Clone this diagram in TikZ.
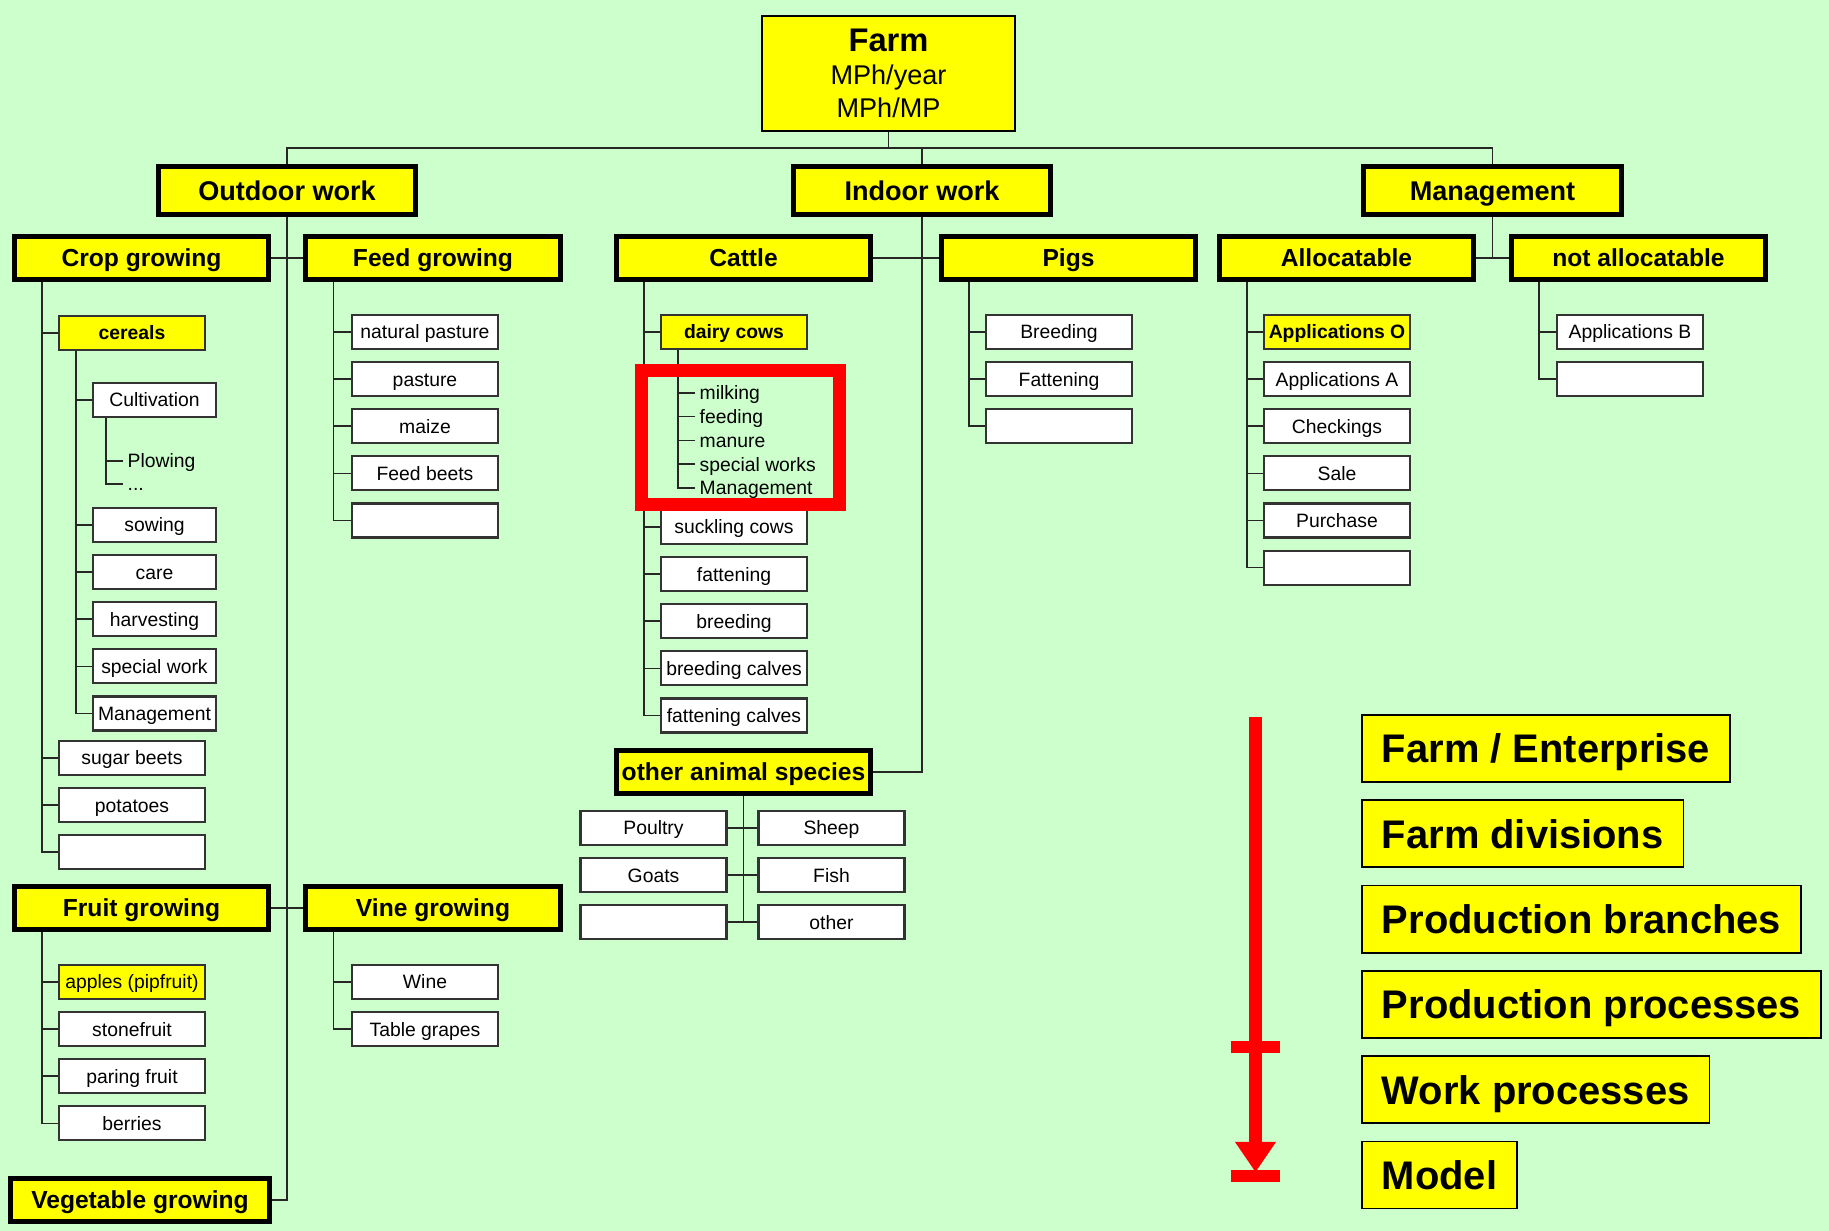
\documentclass[tikz,border=0pt]{standalone}
\usepackage{fontspec}
\setmainfont{Liberation Sans}
\usetikzlibrary{calc,positioning}
\definecolor{bggreen}{HTML}{CCFFCC}
\definecolor{boxyellow}{HTML}{FFFF00}

\begin{document}
\begin{tikzpicture}[x=0.01cm, y=-0.01cm,
        farmbox/.style={draw, line width=0.5pt, fill=boxyellow, minimum width=2.53cm, minimum height=1.15cm, inner sep=0pt, align=center, font=\fontsize{7.7}{9.4}\selectfont},
        areabox/.style={draw, line width=1.4pt, fill=boxyellow, minimum width=2.57cm, minimum height=0.48cm, inner sep=0pt, text height=5.55pt, text depth=0pt, font=\fontsize{7.7}{9}\selectfont\bfseries},
        branchbox/.style={areabox, minimum width=2.54cm, minimum height=0.43cm, text height=5.05pt, font=\fontsize{7}{8.4}\selectfont\bfseries},
        procbox/.style={draw=black!80, line width=0.6pt, fill=white, minimum width=1.46cm, minimum height=0.34cm, inner sep=0pt, text height=3.96pt, text depth=0pt, font=\fontsize{5.5}{6.6}\selectfont},
        workbox/.style={procbox, minimum width=1.23cm},
        yprocbox/.style={procbox, fill=boxyellow},
        worktext/.style={anchor=west, inner sep=0.04cm, text height=3.96pt, text depth=0pt, font=\fontsize{5.5}{6.6}\selectfont},
        tierbox/.style={draw, line width=0.5pt, fill=boxyellow, anchor=west, minimum height=0.67cm, inner xsep=0.2cm, text height=8.17pt, text depth=0pt, font=\fontsize{11.35}{13}\selectfont\bfseries},
        link/.style={draw=black!85, line width=0.45pt}]

        \fill[bggreen] (0,0) rectangle (1829,1231);
        \useasboundingbox (0,0) rectangle (1829,1231);

        % top of the tree
        \node [farmbox] (farm) at (888.5,73.5) {{\fontsize{9.3}{11}\selectfont\bfseries Farm}\\MPh/year\\MPh/MP};
        \node [areabox] (outdoor) at (287,190.5) {Outdoor work};
        \node [areabox] (indoor) at (922,190.5) {Indoor work};
        \node [areabox] (mgmt) at (1492.5,190.5) {Management};

        \node [branchbox] (crop) at (141.5,258) {Crop growing};
        \node [branchbox] (feed) at (433,258) {Feed growing};
        \node [branchbox] (cattle) at (743.5,258) {Cattle};
        \node [branchbox] (pigs) at (1068.5,258) {Pigs};
        \node [branchbox] (alloc) at (1346.5,258) {Allocatable};
        \node [branchbox] (notalloc) at (1638.5,258) {not allocatable};
        \node [branchbox] (fruit) at (141.5,908) {Fruit growing};
        \node [branchbox] (vine) at (433,908) {Vine growing};
        \node [branchbox, minimum width=2.58cm] (veg) at (140,1200) {Vegetable growing};
        \node [branchbox] (othsp) at (743.5,772) {other animal species};

        % crop growing
        \node [yprocbox, font=\fontsize{5.5}{6.6}\selectfont\bfseries] (cereals) at (132,333) {cereals};
        \node [workbox] (cult) at (154.5,400) {Cultivation};
        \node [worktext] (plow) at (123,461) {Plowing};
        \node [worktext] (etc) at (123,484) {...};
        \node [workbox] (sowing) at (154.5,525) {sowing};
        \node [workbox, below=0.11cm of sowing] (care) {care};
        \node [workbox, below=0.11cm of care] (harvest) {harvesting};
        \node [workbox, below=0.11cm of harvest] (special) {special work};
        \node [workbox, below=0.11cm of special] (cmgmt) {Management};
        \node [procbox] (sugar) at (132,758) {sugar beets};
        \node [procbox, below=0.11cm of sugar] (potato) {potatoes};
        \node [procbox, below=0.11cm of potato] (cropempty) {};

        % feed growing
        \node [procbox] (natpast) at (425,332) {natural pasture};
        \node [procbox, below=0.11cm of natpast] (past) {pasture};
        \node [procbox, below=0.11cm of past] (maize) {maize};
        \node [procbox, below=0.11cm of maize] (fbeets) {Feed beets};
        \node [procbox, below=0.11cm of fbeets] (feedempty) {};

        % cattle
        \node [yprocbox, font=\fontsize{5.5}{6.6}\selectfont\bfseries] (dairy) at (734,332) {dairy cows};
        \foreach \t [count=\i] in {milking,feeding,manure,special works,Management}
            \node [worktext] (dc\i) at (695,369.3+23.7*\i) {\t};
        \node [procbox] (suckling) at (734,527) {suckling cows};
        \node [procbox, below=0.11cm of suckling] (fatten) {fattening};
        \node [procbox, below=0.11cm of fatten] (breed) {breeding};
        \node [procbox, below=0.11cm of breed] (bcalves) {breeding calves};
        \node [procbox, below=0.11cm of bcalves] (fcalves) {fattening calves};

        % pigs
        \node [procbox] (pbreed) at (1059,332) {Breeding};
        \node [procbox, below=0.11cm of pbreed] (pfatten) {Fattening};
        \node [procbox, below=0.11cm of pfatten] (pigempty) {};

        % management
        \node [yprocbox, font=\fontsize{5.5}{6.6}\selectfont\bfseries] (appo) at (1337,332) {Applications O};
        \node [procbox, below=0.11cm of appo] (appa) {Applications A};
        \node [procbox, below=0.11cm of appa] (check) {Checkings};
        \node [procbox, below=0.11cm of check] (sale) {Sale};
        \node [procbox, below=0.11cm of sale] (purchase) {Purchase};
        \node [procbox, below=0.11cm of purchase] (allocempty) {};
        \node [procbox] (appb) at (1630,332) {Applications B};
        \node [procbox, below=0.11cm of appb] (notempty) {};

        % other animal species
        \node [procbox] (poultry) at (653.5,828) {Poultry};
        \node [procbox, below=0.11cm of poultry] (goats) {Goats};
        \node [procbox, below=0.11cm of goats] (othempty) {};
        \node [procbox] (sheep) at (831.5,828) {Sheep};
        \node [procbox, below=0.11cm of sheep] (fish) {Fish};
        \node [procbox, below=0.11cm of fish] (otherbox) {other};

        % fruit and vine growing
        \node [yprocbox] (apples) at (132,982) {apples (pipfruit)};
        \node [procbox, below=0.11cm of apples] (stone) {stonefruit};
        \node [procbox, below=0.11cm of stone] (paring) {paring fruit};
        \node [procbox, below=0.11cm of paring] (berries) {berries};
        \node [procbox] (wine) at (425,982) {Wine};
        \node [procbox, below=0.11cm of wine] (grapes) {Table grapes};

        % connectors
        \coordinate (bus) at (0,148);
        \draw[link] (farm.south) -- (farm.south |- bus);
        \draw[link] (outdoor.north) |- (bus -| mgmt.north) -- (mgmt.north);
        \draw[link] (indoor.north) -- (indoor.north |- bus);
        \draw[link] (outdoor.south) |- (veg.east);
        \draw[link] (crop.east) -- (feed.west);
        \draw[link] (fruit.east) -- (vine.west);
        \draw[link] (indoor.south) |- (othsp.east);
        \draw[link] (cattle.east) -- (pigs.west);
        \draw[link] (mgmt.south) |- (alloc.east);
        \draw[link] (alloc.east) -- (notalloc.west);

        \coordinate (cropspine) at ($(crop.south west)+(30,0)$);
        \coordinate (feedspine) at ($(feed.south west)+(30,0)$);
        \coordinate (cattlespine) at ($(cattle.south west)+(30,0)$);
        \coordinate (pigspine) at ($(pigs.south west)+(30,0)$);
        \coordinate (allocspine) at ($(alloc.south west)+(30,0)$);
        \coordinate (notspine) at ($(notalloc.south west)+(30,0)$);
        \coordinate (fruitspine) at ($(fruit.south west)+(30,0)$);
        \coordinate (vinespine) at ($(vine.south west)+(30,0)$);
        \coordinate (cerealspine) at ($(cereals.south west)+(18,0)$);
        \coordinate (cultspine) at ($(cult.south west)+(14,0)$);
        \coordinate (dairyspine) at ($(dairy.south west)+(18,0)$);

        \foreach \c in {cereals,sugar,potato,cropempty}
            \draw[link] (\c.west) -| (cropspine);
        \foreach \c in {cult,sowing,care,harvest,special,cmgmt}
            \draw[link] (\c.west) -| (cerealspine);
        \foreach \c in {plow,etc}
            \draw[link] (\c.west) -| (cultspine);
        \foreach \c in {natpast,past,maize,fbeets,feedempty}
            \draw[link] (\c.west) -| (feedspine);
        \foreach \c in {dairy,suckling,fatten,breed,bcalves,fcalves}
            \draw[link] (\c.west) -| (cattlespine);
        \foreach \i in {1,...,5}
            \draw[link] (dc\i.west) -| (dairyspine);
        \foreach \c in {pbreed,pfatten,pigempty}
            \draw[link] (\c.west) -| (pigspine);
        \foreach \c in {appo,appa,check,sale,purchase,allocempty}
            \draw[link] (\c.west) -| (allocspine);
        \foreach \c in {appb,notempty}
            \draw[link] (\c.west) -| (notspine);
        \foreach \c in {apples,stone,paring,berries}
            \draw[link] (\c.west) -| (fruitspine);
        \foreach \c in {wine,grapes}
            \draw[link] (\c.west) -| (vinespine);
        \draw[link] (othsp.south) -- (othsp.south |- otherbox.west);
        \draw[link] (poultry.east) -- (sheep.west);
        \draw[link] (goats.east) -- (fish.west);
        \draw[link] (othempty.east) -- (otherbox.west);

        % focus on the work processes of dairy cows
        \node [draw=red, line width=0.13cm, minimum width=1.98cm, minimum height=1.34cm] (focus) at (740.5,437.5) {};

        % levels of detail
        \node [tierbox] (tier1) at (1361,748.5) {Farm / Enterprise};
        \node [tierbox, below=0.165cm of tier1.south west, anchor=north west] (tier2) {Farm divisions};
        \node [tierbox, below=0.165cm of tier2.south west, anchor=north west] (tier3) {Production branches};
        \node [tierbox, below=0.165cm of tier3.south west, anchor=north west] (tier4) {Production processes};
        \node [tierbox, below=0.165cm of tier4.south west, anchor=north west] (tier5) {Work processes};
        \node [tierbox, below=0.165cm of tier5.south west, anchor=north west] (tier6) {Model};

        \coordinate (arrtop) at (1255.5,717);
        \coordinate (arrend) at (1255.5,1150);
        \draw[red, line width=0.13cm] (arrtop) -- (arrend);
        \fill[red] (1235,1142) -- (1276,1142) -- (1255.5,1172) -- cycle;
        \draw[red, line width=0.125cm] (1231,1047) -- (1280,1047);
        \draw[red, line width=0.125cm] (1231,1176) -- (1280,1176);
    \end{tikzpicture}
\end{document}
